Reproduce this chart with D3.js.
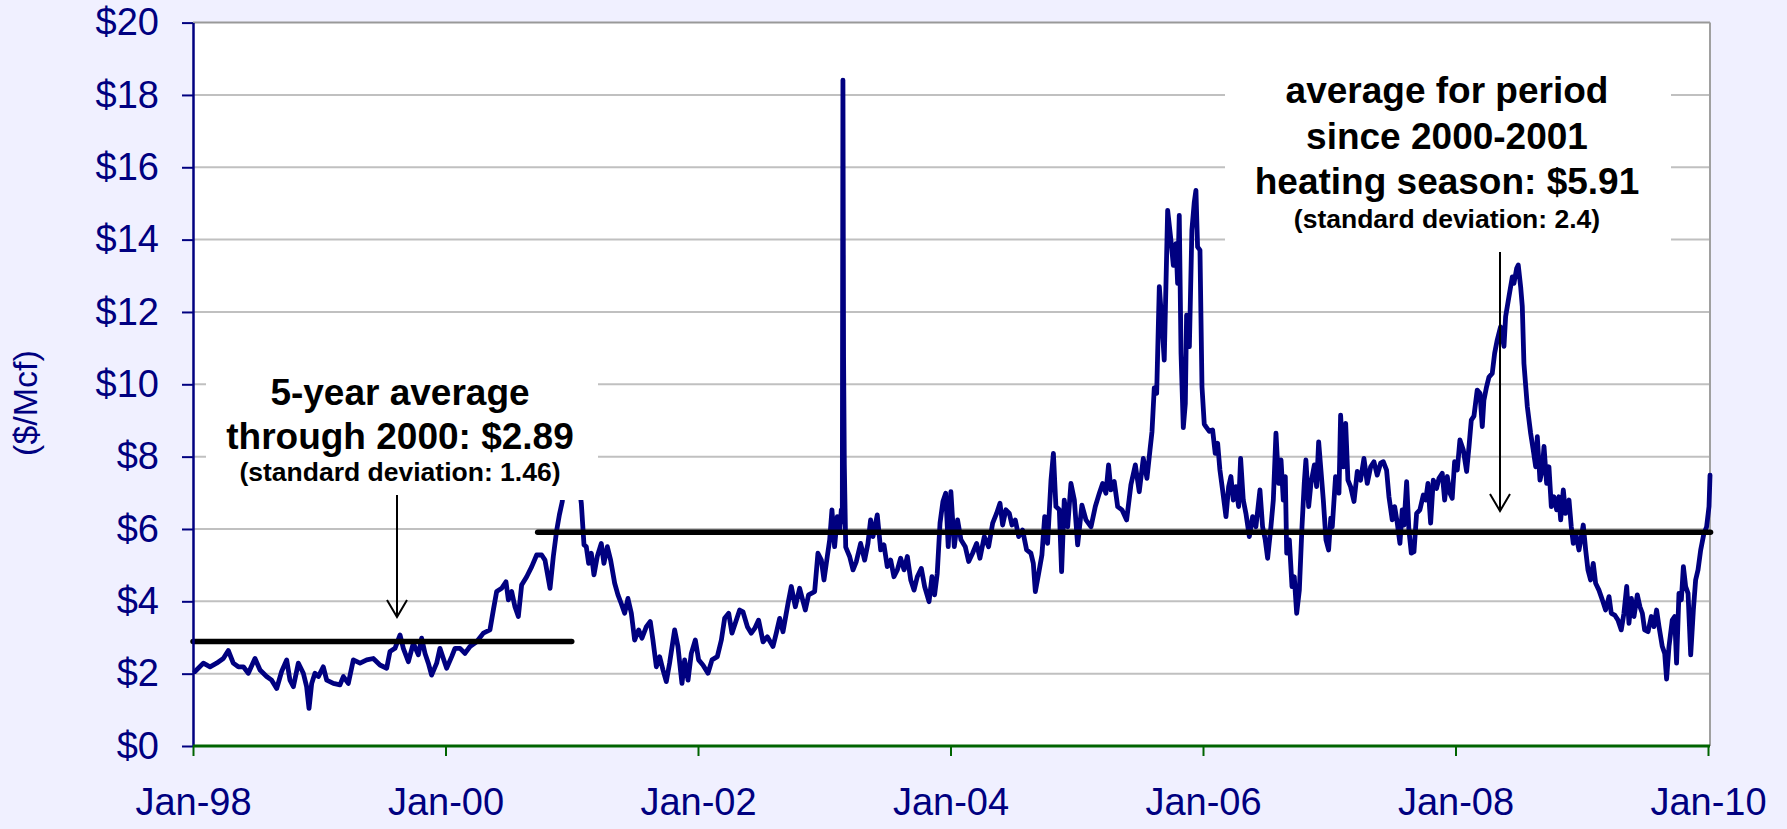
<!DOCTYPE html>
<html>
<head>
<meta charset="utf-8">
<script src="https://d3js.org/d3.v7.min.js"></script>
<style>
  body {
    margin: 0;
    background-color: #f0f0ff;
  }
  text {
    font-family: 'Liberation Sans', Arial, sans-serif;
  }
</style>
</head>
<body>
<div id="chart"></div>
<script>

  // Henry Hub spot price ($/Mcf) as [year, price]
  var prices1998to2000 = [
    [1998.016, 2.06], [1998.082, 2.29], [1998.135, 2.19], [1998.187, 2.29], [1998.240, 2.42], [1998.280, 2.64],
    [1998.319, 2.29], [1998.359, 2.19], [1998.399, 2.19], [1998.438, 2.01], [1998.491, 2.42], [1998.531, 2.10],
    [1998.583, 1.92], [1998.623, 1.82], [1998.663, 1.59], [1998.702, 2.06], [1998.742, 2.38], [1998.768, 1.82],
    [1998.795, 1.64], [1998.834, 2.29], [1998.874, 2.01], [1998.900, 1.64], [1998.919, 1.04], [1998.940, 1.73],
    [1998.966, 2.01], [1998.993, 1.92], [1999.032, 2.19], [1999.059, 1.82], [1999.112, 1.73], [1999.164, 1.69],
    [1999.191, 1.92], [1999.230, 1.73], [1999.270, 2.38], [1999.323, 2.29], [1999.376, 2.38], [1999.428, 2.42],
    [1999.481, 2.24], [1999.534, 2.15], [1999.560, 2.61], [1999.600, 2.70], [1999.640, 3.07], [1999.666, 2.70],
    [1999.706, 2.33], [1999.745, 2.84], [1999.785, 2.52], [1999.811, 2.98], [1999.838, 2.56], [1999.864, 2.29],
    [1999.890, 1.96], [1999.930, 2.29], [1999.956, 2.70], [1999.983, 2.42], [2000.009, 2.15], [2000.049, 2.47],
    [2000.075, 2.70], [2000.115, 2.70], [2000.154, 2.56], [2000.194, 2.75], [2000.247, 2.88], [2000.300, 3.12],
    [2000.352, 3.21], [2000.379, 3.76], [2000.405, 4.27], [2000.445, 4.36], [2000.479, 4.54], [2000.498, 4.04],
    [2000.524, 4.27], [2000.550, 3.85], [2000.577, 3.58], [2000.603, 4.45], [2000.643, 4.68], [2000.683, 4.96],
    [2000.722, 5.28], [2000.762, 5.28], [2000.788, 5.14], [2000.828, 4.36], [2000.854, 5.24], [2000.881, 5.97],
    [2000.902, 6.39], [2000.925, 6.76], [2000.945, 7.90], [2000.960, 9.40], [2000.975, 8.30], [2000.990, 9.90]
  ];

  var prices2001to2003 = [
    [2001.005, 9.60], [2001.025, 8.40], [2001.045, 7.60], [2001.076, 6.70], [2001.097, 5.56], [2001.115, 5.51],
    [2001.134, 5.05], [2001.155, 5.33], [2001.176, 4.73], [2001.202, 5.24], [2001.234, 5.60], [2001.255, 5.05],
    [2001.282, 5.51], [2001.308, 5.14], [2001.340, 4.50], [2001.366, 4.18], [2001.392, 3.94], [2001.419, 3.67],
    [2001.445, 4.08], [2001.472, 3.67], [2001.498, 2.93], [2001.530, 3.21], [2001.556, 2.98], [2001.591, 3.30],
    [2001.622, 3.44], [2001.643, 2.93], [2001.670, 2.19], [2001.696, 2.47], [2001.723, 2.10], [2001.749, 1.78],
    [2001.775, 2.29], [2001.815, 3.21], [2001.841, 2.75], [2001.873, 1.73], [2001.894, 2.38], [2001.921, 1.82],
    [2001.947, 2.56], [2001.979, 2.93], [2002.005, 2.38], [2002.039, 2.24], [2002.079, 2.01], [2002.111, 2.38],
    [2002.153, 2.47], [2002.185, 2.93], [2002.211, 3.53], [2002.243, 3.67], [2002.269, 3.12], [2002.303, 3.48],
    [2002.330, 3.76], [2002.356, 3.71], [2002.391, 3.30], [2002.422, 3.12], [2002.449, 3.25], [2002.480, 3.48],
    [2002.515, 2.88], [2002.549, 3.02], [2002.594, 2.75], [2002.620, 3.12], [2002.647, 3.53], [2002.673, 3.16],
    [2002.713, 3.94], [2002.739, 4.41], [2002.771, 3.85], [2002.805, 4.36], [2002.850, 3.76], [2002.876, 4.18],
    [2002.924, 4.27], [2002.950, 5.33], [2002.977, 5.14], [2002.998, 4.59], [2003.024, 5.24], [2003.043, 5.70],
    [2003.061, 6.53], [2003.082, 5.51], [2003.103, 6.34], [2003.122, 5.93], [2003.135, 6.53], [2003.143, 6.20],
    [2003.148, 18.41], [2003.153, 10.76], [2003.159, 7.77], [2003.170, 5.50], [2003.201, 5.24], [2003.228, 4.87],
    [2003.254, 5.10], [2003.288, 5.60], [2003.320, 5.14], [2003.346, 5.60], [2003.367, 6.25], [2003.386, 5.79],
    [2003.420, 6.39], [2003.447, 5.42], [2003.473, 5.56], [2003.499, 4.96], [2003.526, 5.14], [2003.552, 4.68],
    [2003.579, 4.87], [2003.605, 5.19], [2003.632, 4.87], [2003.658, 5.24], [2003.685, 4.59], [2003.711, 4.31],
    [2003.737, 4.68], [2003.769, 4.91], [2003.795, 4.41], [2003.830, 3.99], [2003.853, 4.68], [2003.874, 4.18],
    [2003.895, 4.77], [2003.917, 6.16], [2003.940, 6.76], [2003.962, 6.99], [2003.982, 5.51], [2004.003, 7.03]
  ];

  var prices2004to2006 = [
    [2004.030, 5.51], [2004.056, 6.25], [2004.083, 5.70], [2004.117, 5.51], [2004.144, 5.10], [2004.175, 5.33],
    [2004.207, 5.60], [2004.233, 5.19], [2004.268, 5.79], [2004.302, 5.51], [2004.334, 6.16], [2004.365, 6.43],
    [2004.392, 6.71], [2004.413, 6.11], [2004.439, 6.53], [2004.466, 6.43], [2004.487, 6.11], [2004.513, 6.25],
    [2004.540, 5.79], [2004.571, 5.97], [2004.603, 5.42], [2004.637, 5.33], [2004.656, 5.05], [2004.672, 4.27],
    [2004.698, 4.77], [2004.724, 5.28], [2004.746, 6.34], [2004.769, 5.60], [2004.796, 7.35], [2004.815, 8.09],
    [2004.835, 6.62], [2004.862, 6.53], [2004.880, 4.82], [2004.901, 6.80], [2004.928, 6.06], [2004.954, 7.26],
    [2004.981, 6.80], [2005.007, 5.56], [2005.041, 6.66], [2005.073, 6.25], [2005.113, 6.06], [2005.147, 6.62],
    [2005.179, 6.99], [2005.205, 7.26], [2005.231, 6.99], [2005.252, 7.77], [2005.271, 7.08], [2005.297, 7.31],
    [2005.324, 6.62], [2005.358, 6.53], [2005.395, 6.25], [2005.429, 7.22], [2005.464, 7.77], [2005.495, 7.03],
    [2005.527, 7.95], [2005.556, 7.40], [2005.580, 8.18], [2005.596, 8.69], [2005.614, 9.90], [2005.633, 9.75],
    [2005.654, 12.70], [2005.675, 11.68], [2005.693, 10.67], [2005.720, 14.81], [2005.746, 13.98], [2005.765, 13.29],
    [2005.786, 13.89], [2005.799, 12.79], [2005.812, 14.67], [2005.826, 10.86], [2005.844, 8.80], [2005.860, 9.47],
    [2005.870, 11.91], [2005.892, 11.04], [2005.912, 14.26], [2005.931, 15.04], [2005.944, 15.36], [2005.957, 13.80],
    [2005.976, 13.71], [2005.992, 9.93], [2006.010, 8.90], [2006.023, 8.83], [2006.050, 8.70], [2006.076, 8.74],
    [2006.097, 8.09], [2006.116, 8.37], [2006.134, 7.63], [2006.155, 7.08], [2006.182, 6.34], [2006.203, 7.17],
    [2006.221, 7.45], [2006.240, 6.80], [2006.261, 7.17], [2006.282, 6.62], [2006.298, 7.95], [2006.319, 6.80],
    [2006.340, 6.43], [2006.367, 5.79], [2006.393, 6.34], [2006.419, 6.06], [2006.451, 7.08], [2006.472, 6.06],
    [2006.493, 5.70], [2006.512, 5.19], [2006.538, 6.06], [2006.557, 6.80], [2006.578, 8.65], [2006.599, 7.26],
    [2006.618, 7.91], [2006.636, 6.80], [2006.652, 7.45], [2006.663, 5.33], [2006.684, 5.70], [2006.705, 4.41],
    [2006.723, 4.68], [2006.742, 3.67], [2006.763, 4.31], [2006.784, 6.06], [2006.802, 7.26], [2006.815, 7.91],
    [2006.837, 6.62], [2006.855, 7.26], [2006.882, 7.77], [2006.900, 7.17], [2006.916, 8.41], [2006.934, 7.63],
    [2006.953, 6.80], [2006.974, 5.70], [2006.995, 5.42]
  ];

  var prices2007to2009 = [
    [2007.012, 6.30], [2007.024, 6.06], [2007.050, 7.45], [2007.077, 6.99], [2007.090, 9.15], [2007.111, 7.72],
    [2007.130, 8.92], [2007.148, 7.35], [2007.169, 7.17], [2007.196, 6.76], [2007.222, 7.59], [2007.248, 7.35],
    [2007.275, 7.95], [2007.301, 7.26], [2007.328, 7.72], [2007.354, 7.86], [2007.380, 7.49], [2007.407, 7.82],
    [2007.428, 7.86], [2007.454, 7.63], [2007.473, 6.89], [2007.499, 6.25], [2007.518, 6.62], [2007.539, 6.16],
    [2007.560, 5.60], [2007.578, 6.53], [2007.592, 6.11], [2007.613, 7.31], [2007.631, 5.97], [2007.650, 5.33],
    [2007.671, 5.37], [2007.692, 6.43], [2007.718, 6.53], [2007.745, 6.94], [2007.764, 6.80], [2007.782, 7.26],
    [2007.803, 6.16], [2007.824, 7.35], [2007.850, 7.12], [2007.869, 7.40], [2007.895, 7.54], [2007.914, 6.80],
    [2007.935, 7.45], [2007.956, 6.99], [2007.974, 6.85], [2007.993, 7.86], [2008.014, 7.63], [2008.035, 8.46],
    [2008.062, 8.18], [2008.088, 7.59], [2008.107, 8.28], [2008.125, 9.01], [2008.146, 9.12], [2008.172, 9.84],
    [2008.194, 9.75], [2008.212, 8.83], [2008.225, 9.56], [2008.246, 9.93], [2008.265, 10.20], [2008.291, 10.30],
    [2008.310, 10.86], [2008.331, 11.23], [2008.357, 11.59], [2008.384, 11.05], [2008.397, 11.87], [2008.423, 12.42],
    [2008.450, 12.97], [2008.463, 12.79], [2008.484, 13.20], [2008.497, 13.30], [2008.516, 12.70], [2008.529, 12.15],
    [2008.542, 10.58], [2008.569, 9.38], [2008.595, 8.65], [2008.616, 8.18], [2008.635, 7.72], [2008.648, 8.55],
    [2008.669, 7.35], [2008.687, 7.63], [2008.701, 8.28], [2008.722, 7.26], [2008.740, 7.72], [2008.759, 6.62],
    [2008.780, 6.89], [2008.801, 6.53], [2008.819, 6.89], [2008.833, 6.25], [2008.854, 7.08], [2008.872, 6.43],
    [2008.899, 6.80], [2008.917, 6.06], [2008.933, 5.60], [2008.952, 5.88], [2008.978, 5.42], [2008.997, 5.79],
    [2009.012, 6.11], [2009.031, 5.42], [2009.049, 4.87], [2009.070, 4.59], [2009.091, 5.05], [2009.110, 4.50],
    [2009.136, 4.31], [2009.163, 4.04], [2009.189, 3.76], [2009.216, 4.13], [2009.234, 3.67], [2009.261, 3.62],
    [2009.287, 3.48], [2009.313, 3.21], [2009.334, 3.67], [2009.356, 4.41], [2009.374, 3.39], [2009.393, 4.08],
    [2009.414, 3.58], [2009.440, 4.18], [2009.461, 3.85], [2009.480, 3.67], [2009.498, 3.21], [2009.525, 3.16],
    [2009.551, 3.58], [2009.572, 3.30], [2009.593, 3.76], [2009.612, 3.30], [2009.638, 2.75], [2009.657, 2.56],
    [2009.672, 1.85], [2009.691, 2.75], [2009.717, 3.48], [2009.736, 3.58], [2009.751, 2.29], [2009.770, 4.22],
    [2009.789, 4.04], [2009.805, 4.96], [2009.823, 4.41], [2009.842, 4.22], [2009.863, 2.52], [2009.884, 3.76],
    [2009.902, 4.59], [2009.921, 4.87], [2009.942, 5.42], [2009.968, 5.88], [2009.989, 6.06], [2010.008, 6.62],
    [2010.016, 7.49]
  ];

  // average lines: start year, end year, value
  var avgStart = [1998.0, 2000.73];
  var avgEnd = [2001.0, 2010.02];
  var avgValue = [2.89, 5.91];

  var yTicks = [0, 2, 4, 6, 8, 10, 12, 14, 16, 18, 20];
  var xTicks = [1998, 2000, 2002, 2004, 2006, 2008, 2010];

  var noteLeft = ["5-year average", "through 2000: $2.89", "(standard deviation: 1.46)"];
  var noteRight = ["average for period", "since 2000-2001", "heating season: $5.91", "(standard deviation: 2.4)"];

  var prices = prices1998to2000.concat(prices2001to2003, prices2004to2006, prices2007to2009);

  var W = 1787, H = 829;
  var plotLeft = 193, plotRight = 1710, plotTop = 22.6, plotBottom = 746;
  var navy = "#000080";

  var svg = d3.select("#chart")
    .append("svg")
    .attr("width", W)
    .attr("height", H)
    .style("display", "block");

  var x = d3.scaleLinear().domain([1998, 2010]).range([plotLeft, 1708]);
  var y = d3.scaleLinear().domain([0, 20]).range([plotBottom, plotTop]);

  // plot area
  svg.append("rect")
    .attr("x", plotLeft).attr("y", plotTop)
    .attr("width", plotRight - plotLeft).attr("height", plotBottom - plotTop)
    .attr("fill", "white");

  // gridlines
  svg.selectAll(".grid")
    .data(yTicks.slice(1, -1))
    .enter()
    .append("line")
    .attr("x1", plotLeft).attr("x2", plotRight)
    .attr("y1", function (d) { return y(d); })
    .attr("y2", function (d) { return y(d); })
    .attr("stroke", "#c0c0c0")
    .attr("stroke-width", 2);

  // top and right border
  svg.append("line")
    .attr("x1", plotLeft).attr("x2", plotRight)
    .attr("y1", y(20)).attr("y2", y(20))
    .attr("stroke", "#999999").attr("stroke-width", 2);
  svg.append("line")
    .attr("x1", plotRight).attr("x2", plotRight)
    .attr("y1", plotTop).attr("y2", plotBottom)
    .attr("stroke", "#a0a0a0").attr("stroke-width", 2);

  // price line
  var line = d3.line()
    .x(function (d) { return x(d[0]); })
    .y(function (d) { return y(d[1]); });

  svg.append("path")
    .datum(prices)
    .attr("d", line)
    .attr("fill", "none")
    .attr("stroke", navy)
    .attr("stroke-width", 4.8)
    .attr("stroke-linejoin", "round")
    .attr("stroke-linecap", "round");

  // average lines
  svg.selectAll(".avg")
    .data(avgValue)
    .enter()
    .append("line")
    .attr("x1", function (d, i) { return x(avgStart[i]); })
    .attr("x2", function (d, i) { return x(avgEnd[i]); })
    .attr("y1", function (d) { return y(d); })
    .attr("y2", function (d) { return y(d); })
    .attr("stroke", "black")
    .attr("stroke-width", 5.5)
    .attr("stroke-linecap", "round");

  // Y axis
  var yAxis = svg.append("g")
    .attr("transform", "translate(" + plotLeft + ",0)")
    .call(d3.axisLeft(y).tickValues(yTicks).tickFormat(function (d) { return "$" + d; })
      .tickSize(11).tickSizeOuter(0).tickPadding(23));
  yAxis.select(".domain").attr("stroke", navy).attr("stroke-width", 2.5);
  yAxis.selectAll(".tick line").attr("stroke", navy).attr("stroke-width", 2);
  yAxis.selectAll(".tick text")
    .attr("fill", navy)
    .style("font-size", "38px")
    .style("font-family", "'Liberation Sans', Arial, sans-serif");

  // X axis
  var xAxis = svg.append("g")
    .attr("transform", "translate(0," + plotBottom + ")")
    .call(d3.axisBottom(x).tickValues(xTicks)
      .tickFormat(function (d) { return "Jan-" + String(d).slice(2); })
      .tickSize(10).tickSizeOuter(0).tickPadding(32));
  xAxis.select(".domain").remove();
  xAxis.append("line")
    .attr("x1", plotLeft).attr("x2", plotRight)
    .attr("stroke", "#006400").attr("stroke-width", 3);
  xAxis.selectAll(".tick line").attr("stroke", "#006400").attr("stroke-width", 2);
  xAxis.selectAll(".tick text")
    .attr("fill", navy)
    .style("font-size", "38px")
    .style("font-family", "'Liberation Sans', Arial, sans-serif");

  // Y axis title
  svg.append("text")
    .attr("transform", "translate(37,403) rotate(-90)")
    .attr("text-anchor", "middle")
    .attr("fill", navy)
    .style("font-size", "34px")
    .text("($/Mcf)");

  // annotation boxes
  svg.append("rect")
    .attr("x", 206).attr("y", 345).attr("width", 392).attr("height", 155)
    .attr("fill", "white");
  svg.append("rect")
    .attr("x", 1225).attr("y", 60).attr("width", 446).attr("height", 188)
    .attr("fill", "white");

  var leftY = [405, 449, 481];
  svg.selectAll(".noteLeft")
    .data(noteLeft)
    .enter()
    .append("text")
    .attr("x", 400)
    .attr("y", function (d, i) { return leftY[i]; })
    .attr("text-anchor", "middle")
    .style("font-weight", "bold")
    .style("font-size", function (d, i) { return i < 2 ? "37px" : "26.5px"; })
    .text(function (d) { return d; });

  var rightY = [103, 149, 194, 228];
  svg.selectAll(".noteRight")
    .data(noteRight)
    .enter()
    .append("text")
    .attr("x", 1447)
    .attr("y", function (d, i) { return rightY[i]; })
    .attr("text-anchor", "middle")
    .style("font-weight", "bold")
    .style("font-size", function (d, i) { return i < 3 ? "37px" : "26.5px"; })
    .text(function (d) { return d; });

  // arrows
  function arrow(ax, y0, y1) {
    svg.append("line")
      .attr("x1", ax).attr("x2", ax)
      .attr("y1", y0).attr("y2", y1)
      .attr("stroke", "black").attr("stroke-width", 2);
    svg.append("path")
      .attr("d", "M" + (ax - 10) + "," + (y1 - 17) + "L" + ax + "," + y1 + "L" + (ax + 10) + "," + (y1 - 17))
      .attr("fill", "none")
      .attr("stroke", "black")
      .attr("stroke-width", 2);
  }
  arrow(397, 495, 617);
  arrow(1500, 252, 511);

</script>
</body>
</html>
